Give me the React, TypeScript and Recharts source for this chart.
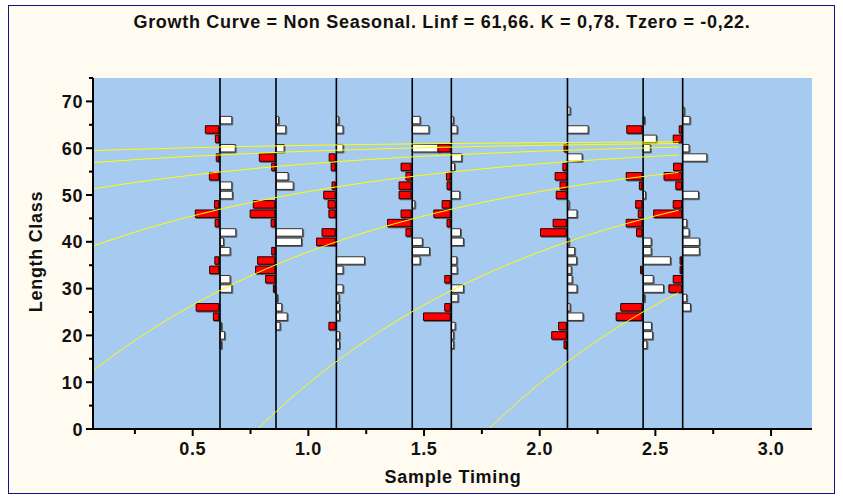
import React from 'react'
import { CartesianGrid, Line, LineChart, ReferenceArea, ReferenceLine, XAxis, YAxis } from 'recharts'

// sample timing (years) of each length-frequency sample
const sampleTimes = [0.618, 0.86, 1.121, 1.449, 1.618, 2.12, 2.447, 2.618]

// restructured scores per sample: [length class mid, score]; + = white peak, - = red trough
const sample1 = [
    [66, 41], [64, -47], [62, -12], [60, 53], [58, -9], [54, -33], [52, 41], [50, 43], [48, -15], [46, -82],
    [44, -13], [42, 55], [40, 12], [38, 35], [36, -14], [34, -32], [32, 35], [30, 41], [26, -79], [24, -19],
    [22, 5], [20, 16], [18, 5],
]
const sample2 = [
    [66, 9], [64, 34], [60, 28], [58, -54], [56, -11], [54, 42], [52, 60], [48, -75], [46, -86], [44, -13],
    [42, 93], [40, 89], [38, -11], [36, -60], [34, -67], [32, -32], [30, -5], [28, 5], [26, 20], [24, 39],
    [22, 14],
]
const sample3 = [
    [66, 8], [64, 23], [60, 23], [58, -21], [56, -14], [52, -11], [50, -40], [48, -25], [46, -22], [42, -46],
    [40, -65], [36, 98], [34, 23], [30, 23], [28, 9], [26, 11], [24, 11], [22, -22], [20, 11], [18, 11],
]
const sample4 = [
    [66, 27], [64, 58], [60, 95], [56, -35], [54, -18], [52, -42], [50, -42], [48, 9], [46, -35], [44, -82],
    [42, -18], [40, 35], [38, 60], [36, 27],
]
const sample5 = [
    [66, 7], [64, 20], [60, -43], [58, 36], [56, 11], [54, -13], [52, -11], [50, 29], [48, -28], [46, -57],
    [44, -11], [42, 32], [40, 42], [36, 19], [34, 20], [32, -19], [30, 42], [28, 23], [26, -19], [24, -93],
    [22, 13], [20, 8], [18, 8],
]
const sample6 = [
    [68, 9], [64, 72], [60, -8], [58, 51], [56, -12], [54, -39], [52, -22], [50, -35], [48, 5], [46, 33],
    [44, -46], [42, -90], [40, 5], [38, 25], [36, 32], [34, 13], [32, 16], [30, 33], [26, 9], [24, 54],
    [22, -27], [20, -51], [18, -8],
]
const sample7 = [
    [66, 5], [64, -53], [62, 46], [60, 25], [54, -55], [52, -9], [50, 8], [48, -22], [46, -13], [44, -55],
    [42, -19], [40, 28], [38, 28], [36, 95], [34, -5], [32, 35], [30, 71], [28, 5], [26, -74], [24, -90],
    [22, 29], [20, 33], [18, 13],
]
const sample8 = [
    [68, 5], [66, 25], [64, -8], [62, -29], [60, 22], [58, 84], [56, -28], [54, -61], [52, -20], [50, 55],
    [48, -29], [46, -97], [44, 14], [42, 22], [40, 58], [38, 58], [36, -5], [34, -5], [32, -29], [30, -44],
    [28, 14], [26, 27],
]
const samples = [sample1, sample2, sample3, sample4, sample5, sample6, sample7, sample8]

// growth curves (cohorts), [time, length]
const cohortE = [[0.069, 59.49], [0.25, 59.77], [0.5, 60.11], [0.75, 60.38], [1.0, 60.61], [1.25, 60.79], [1.5, 60.95], [1.75, 61.07], [2.0, 61.18], [2.25, 61.26], [2.5, 61.33], [2.6, 61.36]]
const cohortD = [[0.069, 56.92], [0.25, 57.55], [0.5, 58.28], [0.75, 58.87], [1.0, 59.37], [1.25, 59.77], [1.5, 60.11], [1.75, 60.38], [2.0, 60.61], [2.25, 60.79], [2.5, 60.95], [2.6, 61.0]]
const cohortC = [[0.069, 51.32], [0.25, 52.68], [0.5, 54.27], [0.75, 55.58], [1.0, 56.66], [1.25, 57.55], [1.5, 58.28], [1.75, 58.87], [2.0, 59.37], [2.25, 59.77], [2.5, 60.11], [2.6, 60.22]]
const cohortB = [[0.069, 39.1], [0.25, 42.07], [0.5, 45.54], [0.75, 48.4], [1.0, 50.75], [1.25, 52.68], [1.5, 54.27], [1.75, 55.58], [2.0, 56.66], [2.25, 57.55], [2.5, 58.28], [2.6, 58.53]]
const cohortA = [[0.069, 12.44], [0.25, 18.92], [0.5, 26.5], [0.75, 32.72], [1.0, 37.85], [1.25, 42.07], [1.5, 45.54], [1.75, 48.4], [2.0, 50.75], [2.25, 52.68], [2.5, 54.27], [2.6, 54.83]]
const cohortZ1 = [[0.78, 0], [0.9, 5.51], [1.0, 9.72], [1.25, 18.92], [1.5, 26.5], [1.75, 32.72], [2.0, 37.85], [2.25, 42.07], [2.5, 45.54], [2.6, 46.75]]
const cohortZ2 = [[1.78, 0], [1.9, 5.51], [2.0, 9.72], [2.25, 18.92], [2.5, 26.5], [2.6, 29.13]]
const cohorts = [cohortE, cohortD, cohortC, cohortB, cohortA, cohortZ1, cohortZ2]

const xTicks = [0.25, 0.5, 0.75, 1.0, 1.25, 1.5, 1.75, 2.0, 2.25, 2.5, 2.75, 3.0]
const yTicks = [0, 5, 10, 15, 20, 25, 30, 35, 40, 45, 50, 55, 60, 65, 70, 75]

const SCORE_TO_YEARS = 0.00124
const HALF_CLASS = 0.8
const GAP = 0.005

const font = '"Liberation Sans", Arial, sans-serif'
const labelStyle = { fontFamily: font, fontWeight: 'bold' as const, fontSize: 18, letterSpacing: 0.7, color: '#111' }

const XTick = (props: any) => {
    const { x, y, payload } = props
    const v = payload.value
    const major = Math.abs(v * 2 - Math.round(v * 2)) < 1e-6
    return (
        <g>
            <line x1={x} x2={x} y1={y} y2={y + (major ? 7 : 5)} stroke="#000" strokeWidth={2} />
            {major && (
                <text x={x} y={y + 26} textAnchor="middle" fontFamily={font} fontWeight="bold" fontSize={18} letterSpacing={0.6} fill="#111">
                    {v.toFixed(1)}
                </text>
            )}
        </g>
    )
}

const YTick = (props: any) => {
    const { x, y, payload } = props
    const v = payload.value
    const major = v % 10 === 0
    return (
        <g>
            <line x1={x - (major ? 7 : 4)} x2={x} y1={y} y2={y} stroke="#000" strokeWidth={2} />
            {major && (
                <text x={x - 10} y={y + 6.5} textAnchor="end" fontFamily={font} fontWeight="bold" fontSize={18} letterSpacing={0.6} fill="#111">
                    {v}
                </text>
            )}
        </g>
    )
}

const App = () => {
    return (
        <div style={{ position: 'absolute', left: 0, top: 0, width: 843, height: 499, background: '#fff' }}>
            <style>{`.lfq-bar path { filter: drop-shadow(1.5px 1.5px 0 rgba(70,70,70,0.75)); }`}</style>
            <div style={{ position: 'absolute', left: 8, top: 5, width: 827, height: 489, boxSizing: 'border-box', border: '1px solid #12128a', background: '#fffbf0' }} />
            <div style={{ position: 'absolute', left: 0, top: 0 }}>
                <LineChart width={843} height={499} margin={{ top: 78, right: 31, bottom: 30, left: 0 }}>
                    <CartesianGrid fill="#a6caf0" fillOpacity={1} stroke="none" horizontal={false} vertical={false} />
                    <XAxis
                        type="number"
                        dataKey="t"
                        domain={[0.069, 3.177]}
                        allowDataOverflow
                        ticks={xTicks}
                        interval={0}
                        tick={XTick}
                        tickLine={false}
                        tickSize={0}
                        tickMargin={0}
                        height={40}
                        axisLine={{ stroke: '#000', strokeWidth: 2 }}
                    />
                    <YAxis
                        type="number"
                        domain={[0, 75]}
                        allowDataOverflow
                        ticks={yTicks}
                        interval={0}
                        tick={YTick}
                        tickLine={false}
                        tickSize={0}
                        tickMargin={0}
                        width={93}
                        axisLine={{ stroke: '#000', strokeWidth: 2 }}
                    />
                    {samples.map((rows, i) =>
                        rows.map(([len, score]) => {
                            const t = sampleTimes[i]
                            const w = Math.abs(score) * SCORE_TO_YEARS
                            const red = score < 0
                            return (
                                <ReferenceArea
                                    key={`b${i}-${len}`}
                                    className="lfq-bar"
                                    x1={red ? t - GAP - w : t}
                                    x2={red ? t - GAP : t + w}
                                    y1={len - HALF_CLASS}
                                    y2={len + HALF_CLASS}
                                    fill={red ? '#ff0000' : '#ffffff'}
                                    fillOpacity={1}
                                    stroke={red ? '#200000' : '#333333'}
                                    strokeWidth={1}
                                    ifOverflow="visible"
                                />
                            )
                        })
                    )}
                    {sampleTimes.map(t => (
                        <ReferenceLine key={`s${t}`} x={t} stroke="#000" strokeWidth={1.6} />
                    ))}
                    {cohorts.map((c, i) => (
                        <Line
                            key={`c${i}`}
                            data={c.map(([t, L]) => ({ t, L }))}
                            dataKey="L"
                            type="monotone"
                            stroke="#ffff00"
                            strokeWidth={1}
                            dot={false}
                            activeDot={false}
                            isAnimationActive={false}
                        />
                    ))}
                </LineChart>
            </div>
            <div style={{ ...labelStyle, position: 'absolute', left: 0, width: 884, top: 12, textAlign: 'center' }}>
                Growth Curve = Non Seasonal. Linf = 61,66. K = 0,78. Tzero = -0,22.
            </div>
            <div style={{ ...labelStyle, position: 'absolute', left: 0, width: 906, top: 467, textAlign: 'center' }}>
                Sample Timing
            </div>
            <div style={{ position: 'absolute', left: 36, top: 252, width: 0, height: 0 }}>
                <div style={{ ...labelStyle, position: 'absolute', left: -100, top: -11, width: 200, textAlign: 'center', transform: 'rotate(-90deg)', whiteSpace: 'nowrap' }}>
                    Length Class
                </div>
            </div>
        </div>
    )
}

export default App
